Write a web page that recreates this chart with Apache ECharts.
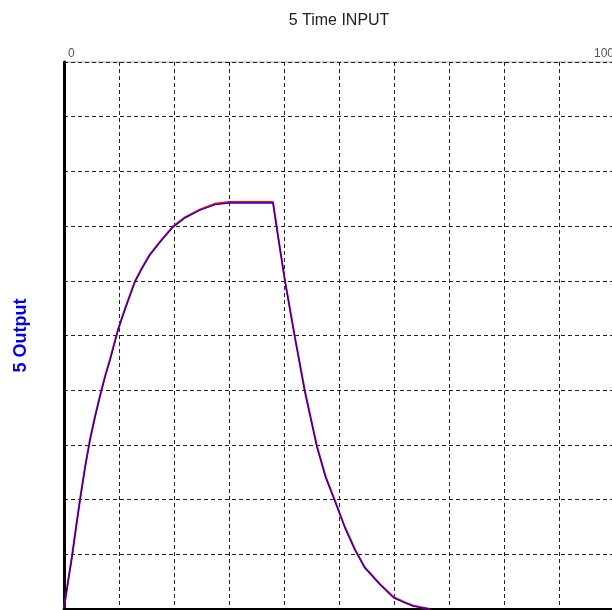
<!DOCTYPE html>
<html>
<head>
<meta charset="utf-8">
<script src="https://cdn.jsdelivr.net/npm/echarts@6/dist/echarts.min.js"></script>
<style>
  html, body { margin: 0; padding: 0; background: #fff; }
  #chart { width: 612px; height: 610px; }
</style>
</head>
<body>
<div id="chart"></div>
<script>
// values (time 0-100, output 0-100)
const timeInput = [0, 0.73, 1.45, 2.18, 2.91, 3.82, 4.73, 5.64, 6.55, 7.45, 8.36, 9.82, 11.1, 12.9, 14.2, 15.6, 17.5, 19.8, 22.0, 24.7, 27.5, 30,
    38, 38.9, 40.2, 42.0, 43.8, 46.0, 47.6, 49.3, 51.1, 52.9, 54.7, 57.5, 60.0, 62.0, 63.5, 66.5];
const outputRed = [0.2, 5.0, 9.6, 14.9, 20.0, 25.9, 31.0, 35.2, 39.0, 42.5, 45.6, 51.1, 54.9, 59.9, 62.4, 64.8, 67.2, 69.9, 71.6, 73.0, 74.1, 74.4,
    74.4, 68.3, 59.9, 49.6, 39.8, 29.7, 24.1, 19.7, 14.9, 10.9, 7.6, 4.5, 2.1, 1.2, 0.6, 0];
const outputBlue = [0.2, 4.9, 9.5, 14.8, 19.9, 25.8, 30.9, 35.1, 38.9, 42.4, 45.5, 51.0, 54.8, 59.8, 62.3, 64.7, 67.1, 69.8, 71.5, 72.9, 73.9, 74.2,
    74.2, 68.2, 59.8, 49.5, 39.7, 29.6, 24.0, 19.6, 14.8, 10.8, 7.5, 4.4, 2.0, 1.1, 0.5, 0];

const pairs = (xs, ys) => xs.map((x, i) => [x, ys[i]]);

const chart = echarts.init(document.getElementById('chart'));
chart.setOption({
    animation: false,
    textStyle: { fontFamily: 'Liberation Sans, Arial, sans-serif' },
    grid: {
        left: 64,
        top: 62,
        width: 550,
        height: 547,
        outerBoundsMode: 'none',
        show: true,
        borderColor: '#aaa',
        borderWidth: 1
    },
    xAxis: {
        type: 'value',
        position: 'top',
        min: 0,
        max: 100,
        interval: 10,
        name: '5 Time INPUT',
        nameLocation: 'middle',
        nameGap: 33,
        nameTextStyle: { fontSize: 16, color: '#222' },
        axisLine: { show: true, lineStyle: { color: '#000', width: 3 } },
        axisTick: { show: false },
        axisLabel: {
            fontSize: 12,
            color: '#555',
            margin: 2,
            alignMinLabel: 'left',
            alignMaxLabel: 'right',
            padding: [0, 0, 0, 4],
            formatter: v => (v === 0 || v === 100) ? String(v) : ''
        },
        splitLine: { show: true, lineStyle: { color: '#222', type: [4, 3], width: 1 } }
    },
    yAxis: {
        type: 'value',
        min: 0,
        max: 100,
        interval: 10,
        name: '5 Output',
        nameLocation: 'middle',
        nameGap: 34,
        nameRotate: 90,
        nameTextStyle: { fontSize: 18, color: '#0000ff', fontWeight: 'bold' },
        axisLine: { show: true, lineStyle: { color: '#000', width: 3 } },
        axisTick: { show: false },
        axisLabel: { show: false },
        splitLine: { show: true, lineStyle: { color: '#222', type: [4, 3], width: 1 } }
    },
    series: [
        {
            name: 'measured',
            type: 'line',
            data: pairs(timeInput, outputRed),
            showSymbol: false,
            lineStyle: { color: '#ff0000', width: 2 },
            z: 2
        },
        {
            name: 'model',
            type: 'line',
            data: pairs(timeInput, outputBlue),
            showSymbol: false,
            lineStyle: { color: '#0000ff', width: 1.2 },
            z: 3
        }
    ]
});
</script>
</body>
</html>
